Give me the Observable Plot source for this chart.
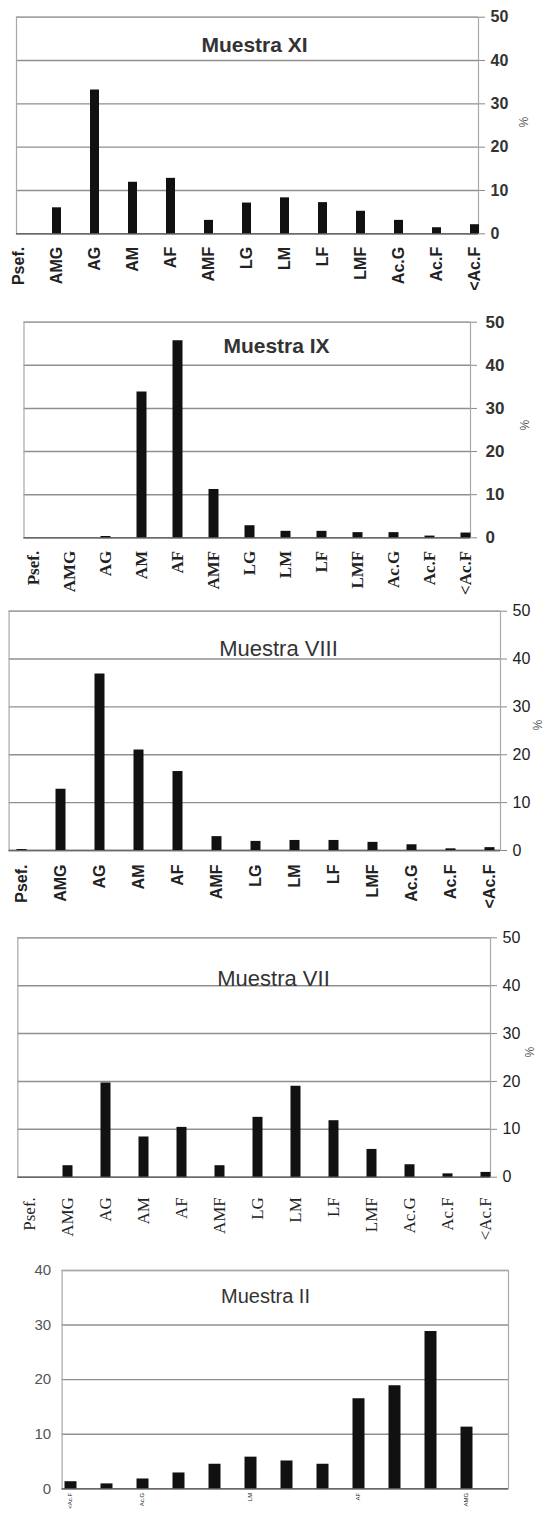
<!DOCTYPE html>
<html><head><meta charset="utf-8">
<script src="https://cdn.jsdelivr.net/npm/d3@7"></script>
<script src="https://cdn.jsdelivr.net/npm/@observablehq/plot@0.6"></script>
<style>
body{margin:0;background:#fff;}
#wrap{position:relative;width:543px;height:1523px;overflow:hidden;background:#fff;}
#wrap svg{position:absolute;left:0;}
</style></head><body><div id="wrap"></div>
<script>
// ---- data ----
const categories = ["Psef.","AMG","AG","AM","AF","AMF","LG","LM","LF","LMF","Ac.G","Ac.F","<Ac.F"];
const muestraXI   = [0, 6.0, 33.2, 11.9, 12.8, 3.1, 7.1, 8.3, 7.2, 5.2, 3.1, 1.4, 2.1];
const muestraIX   = [0, 0, 0.3, 33.8, 45.7, 11.2, 2.8, 1.5, 1.5, 1.2, 1.2, 0.4, 1.1];
const muestraVIII = [0.2, 12.8, 36.9, 21.0, 16.5, 2.9, 1.9, 2.1, 2.1, 1.7, 1.2, 0.35, 0.6];
const muestraVII  = [0, 2.4, 19.7, 8.4, 10.4, 2.4, 12.5, 19.0, 11.8, 5.8, 2.6, 0.7, 1.0];
const categoriesII = ["<Ac.F","Ac.F","Ac.G","LMF","LF","LM","LG","AMF","AF","AM","AG","AMG"];
const muestraII    = [1.3, 0.9, 1.8, 2.9, 4.5, 5.8, 5.1, 4.5, 16.5, 18.9, 28.8, 11.3];
const ticksII      = ["<Ac.F","Ac.G","LM","AF","AMG"];
const yTicks50 = [0, 10, 20, 30, 40, 50];
const yTicks40 = [0, 10, 20, 30, 40];
const titles = ["Muestra XI", "Muestra IX", "Muestra VIII", "Muestra VII", "Muestra II"];

// ---- layout ----
const SANS = "Liberation Sans, Arial, sans-serif";
const SERIF = "Liberation Serif, Times New Roman, serif";
const panels = [
  {title: titles[0], cats: categories, vals: muestraXI, xt: categories, ticks: yTicks50, yMax: 50,
   top: 0, height: 300, yTop: 16.7, y0: 233.3, left: 16, right: 478, xFirst: 17, xLast: 474,
   yAnchor: "right", tickSize: 6, tickPadding: 6, tickFS: 16, tickFW: "bold", tickColor: "#333",
   catFamily: SANS, catFS: 16, catFW: "bold", catPad: 13, barW: 9,
   tX: 254, tY: 37, tFS: 21, tFW: "bold", pct: [527, 127]},
  {title: titles[1], cats: categories, vals: muestraIX, xt: categories, ticks: yTicks50, yMax: 50,
   top: 300, height: 305, yTop: 321.7, y0: 537.3, left: 23.5, right: 470, xFirst: 33, xLast: 465,
   yAnchor: "right", tickSize: 6, tickPadding: 9, tickFS: 17, tickFW: "bold", tickColor: "#333",
   catFamily: SERIF, catFS: 17, catFW: "bold", catPad: 13, barW: 10,
   tX: 276, tY: 338, tFS: 21, tFW: "bold", pct: [528, 430]},
  {title: titles[2], cats: categories, vals: muestraVIII, xt: categories, ticks: yTicks50, yMax: 50,
   top: 605, height: 315, yTop: 610.7, y0: 850, left: 8.6, right: 500, xFirst: 15.6, xLast: 495,
   yAnchor: "right", tickSize: 6, tickPadding: 6, tickFS: 16, tickFW: "normal", tickColor: "#222",
   catFamily: SANS, catFS: 16, catFW: "bold", catPad: 14, barW: 10,
   tX: 278, tY: 640, tFS: 22, tFW: "normal", pct: [541, 730]},
  {title: titles[3], cats: categories, vals: muestraVII, xt: categories, ticks: yTicks50, yMax: 50,
   top: 925, height: 330, yTop: 937.3, y0: 1176.7, left: 17.3, right: 490, xFirst: 27, xLast: 486,
   yAnchor: "right", tickSize: 6, tickPadding: 6, tickFS: 16, tickFW: "normal", tickColor: "#222",
   catFamily: SERIF, catFS: 17, catFW: "normal", catPad: 20, barW: 10,
   tX: 273, tY: 970, tFS: 22, tFW: "normal", pct: [533, 1057]},
  {title: titles[4], cats: categoriesII, vals: muestraII, xt: ticksII, ticks: yTicks40, yMax: 40,
   top: 1260, height: 263, yTop: 1270, y0: 1488.3, left: 61.6, right: 508, xFirst: 68.5, xLast: 467,
   yAnchor: "left", tickSize: 0, tickPadding: 11, tickFS: 15, tickFW: "normal", tickColor: "#555",
   catFamily: SANS, catFS: 6, catFW: "normal", catPad: 4, barW: 12,
   tX: 265, tY: 1288, tFS: 20, tFW: "normal", pct: null}
];

const W = 543;
const wrap = document.getElementById("wrap");
for (const p of panels) {
  const data = p.cats.map((c, i) => ({cat: c, v: p.vals[i]}));
  const marks = [
    Plot.gridY(p.ticks, {stroke: "#8f8f8f", strokeOpacity: 1, strokeWidth: 1.4}),
    Plot.frame({stroke: "#a8a8a8", strokeWidth: 1.2}),
    Plot.ruleY([0], {stroke: "#6a6a6a", strokeWidth: 1.6}),
    Plot.ruleX(data, {x: "cat", y1: 0, y2: "v", stroke: "#111", strokeWidth: p.barW}),
    Plot.axisY(p.ticks, {anchor: p.yAnchor, tickSize: p.tickSize, tickPadding: p.tickPadding,
      color: p.tickColor, stroke: "#888", fontSize: p.tickFS, fontWeight: p.tickFW, fontFamily: SANS, label: null}),
    Plot.axisX(p.xt, {anchor: "bottom", tickRotate: -90, tickSize: 0, tickPadding: p.catPad,
      color: "#222", fontSize: p.catFS, fontWeight: p.catFW, fontFamily: p.catFamily, label: null}),
    Plot.text([p.title], {frameAnchor: "top-left", dx: p.tX - p.left, dy: p.tY - p.yTop,
      textAnchor: "middle", fontSize: p.tFS, fontWeight: p.tFW, fontFamily: SANS, fill: "#333"})
  ];
  if (p.pct) marks.push(Plot.text(["%"], {frameAnchor: "top-right", dx: p.pct[0] - p.right, dy: p.pct[1] - p.yTop,
      rotate: 90, fontSize: 12, fontFamily: SANS, fill: "#555"}));
  const svg = Plot.plot({
    width: W, height: p.height,
    marginTop: p.yTop - p.top, marginBottom: p.top + p.height - p.y0,
    marginLeft: p.left, marginRight: W - p.right,
    style: {background: "transparent", overflow: "visible"},
    x: {type: "point", domain: p.cats, range: [p.xFirst, p.xLast], padding: 0},
    y: {domain: [0, p.yMax]},
    marks
  });
  svg.style.top = p.top + "px";
  wrap.appendChild(svg);
}
</script></body></html>
